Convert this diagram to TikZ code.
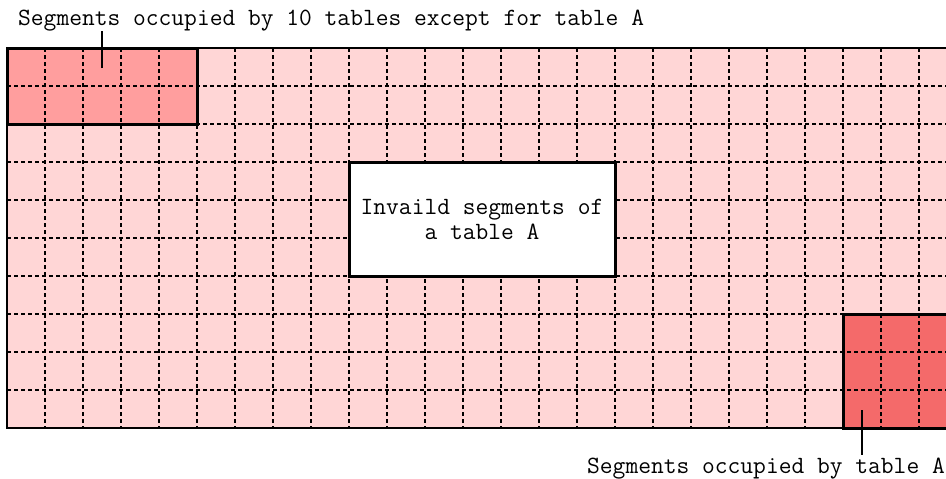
\documentclass[tikz,border=0pt]{standalone}
\definecolor{segfree}{RGB}{255,214,214}
\definecolor{segother}{RGB}{255,158,158}
\definecolor{segA}{RGB}{244,106,106}
\begin{document}
\begin{tikzpicture}[x=1pt,y=-1pt, every node/.style={font=\ttfamily\fontsize{24.8}{25}\selectfont,inner sep=0pt},
    grid/.style={line width=2pt,dash pattern=on 4pt off 3pt},
    tbl/.style={draw,line width=3pt},
    leader/.style={line width=2pt}]
  \useasboundingbox (0,0) rectangle (946,479);
  \clip (0,0) rectangle (946,479);
  \fill [segfree] (7,48) rectangle (980,428);
  \fill [segother] (7,48) rectangle (197,124);
  \fill [segA] (843,314) rectangle (980,428);
  \foreach \i in {1,...,25}
    \draw [grid] (7+38*\i,48) -- (7+38*\i,428);
  \foreach \j in {1,...,9}
    \draw [grid] (7,48+38*\j) -- (980,48+38*\j);
  \draw [line width=2pt] (980,48) -- (7,48) -- (7,428) -- (980,428);
  \node [tbl,minimum width=190pt,minimum height=76pt] (o) at (102,86) {};
  \node [tbl,minimum width=160pt,minimum height=114pt] (a) at (923,371) {};
  \node [tbl,fill=white,minimum width=266pt,minimum height=114pt,align=center] (i) at (482,219)
    {Invaild segments of\\a table A};
  \node [anchor=base west] (lo) at (18,25) {Segments occupied by 10 tables except for table A};
  \node [anchor=base west,inner sep=2pt] (la) at (585,473) {Segments occupied by table A};
  \coordinate (po) at (102,68);
  \coordinate (pa) at (862,410);
  \draw [leader] (po) -- (po |- lo.south);
  \draw [leader] (pa) -- (pa |- la.north);
\end{tikzpicture}
\end{document}
